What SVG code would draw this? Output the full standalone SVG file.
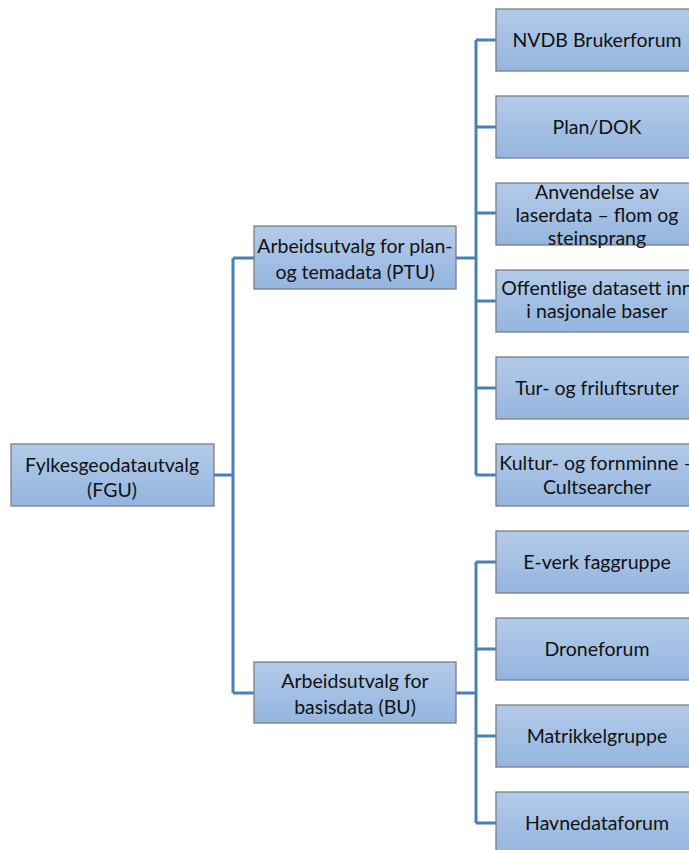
<svg xmlns="http://www.w3.org/2000/svg" width="689" height="850" viewBox="0 0 689 850">
<defs>
<linearGradient id="g" x1="0" y1="0" x2="0" y2="1">
<stop offset="0" stop-color="#b3cbe9"/>
<stop offset="1" stop-color="#94b5df"/>
</linearGradient>
<style>
.box{fill:url(#g);stroke:#7a7f86;stroke-width:1.3}
.t{font-family:Lato,"Liberation Sans",sans-serif;font-size:19.5px;fill:#111;text-anchor:middle}
.c{fill:none;stroke:#4a7ebb;stroke-width:3}
</style>
</defs>
<rect width="689" height="850" fill="#fff"/>
<g id="connectors">
<path class="c" d="M214 475H233M233 258V693M233 258H254M233 693H254"/>
<path class="c" d="M456 258H476M476 40V475M476 40H496M476 127H496M476 213H496M476 301H496M476 388H496M476 475H496"/>
<path class="c" d="M456 693H476M476 562V823M476 562H496M476 649H496M476 736H496M476 823H496"/>
</g>
<g id="fgu"><rect class="box" x="11" y="444" width="203" height="62"/><text class="t" x="112" y="472">Fylkesgeodatautvalg</text><text class="t" x="112" y="497">(FGU)</text></g>
<g id="ptu"><rect class="box" x="254" y="226" width="202" height="63"/><text class="t" x="355" y="253">Arbeidsutvalg for plan-</text><text class="t" x="355" y="279">og temadata (PTU)</text></g>
<g id="bu"><rect class="box" x="254" y="662" width="202" height="61"/><text class="t" x="355" y="688">Arbeidsutvalg for</text><text class="t" x="355" y="714">basisdata (BU)</text></g>
<g id="nvdb"><rect class="box" x="496" y="9" width="203" height="62"/><text class="t" x="597" y="47">NVDB Brukerforum</text></g>
<g id="plan"><rect class="box" x="496" y="96" width="203" height="62"/><text class="t" x="597" y="134">Plan/DOK</text></g>
<g id="laser"><rect class="box" x="496" y="183" width="203" height="62"/><text class="t" x="597" y="199">Anvendelse av</text><text class="t" x="597" y="222">laserdata – flom og</text><text class="t" x="597" y="245">steinsprang</text></g>
<g id="offentlige"><rect class="box" x="496" y="270" width="203" height="62"/><text class="t" x="597" y="295">Offentlige datasett inn</text><text class="t" x="597" y="318">i nasjonale baser</text></g>
<g id="tur"><rect class="box" x="496" y="357" width="203" height="62"/><text class="t" x="597" y="395">Tur- og friluftsruter</text></g>
<g id="kultur"><rect class="box" x="496" y="444" width="203" height="62"/><text class="t" x="597" y="470">Kultur- og fornminne –</text><text class="t" x="597" y="494">Cultsearcher</text></g>
<g id="everk"><rect class="box" x="496" y="531" width="203" height="62"/><text class="t" x="597" y="569">E-verk faggruppe</text></g>
<g id="drone"><rect class="box" x="496" y="618" width="203" height="62"/><text class="t" x="597" y="656">Droneforum</text></g>
<g id="matrikkel"><rect class="box" x="496" y="705" width="203" height="62"/><text class="t" x="597" y="743">Matrikkelgruppe</text></g>
<g id="havne"><rect class="box" x="496" y="792" width="203" height="62"/><text class="t" x="597" y="830">Havnedataforum</text></g>
</svg>
